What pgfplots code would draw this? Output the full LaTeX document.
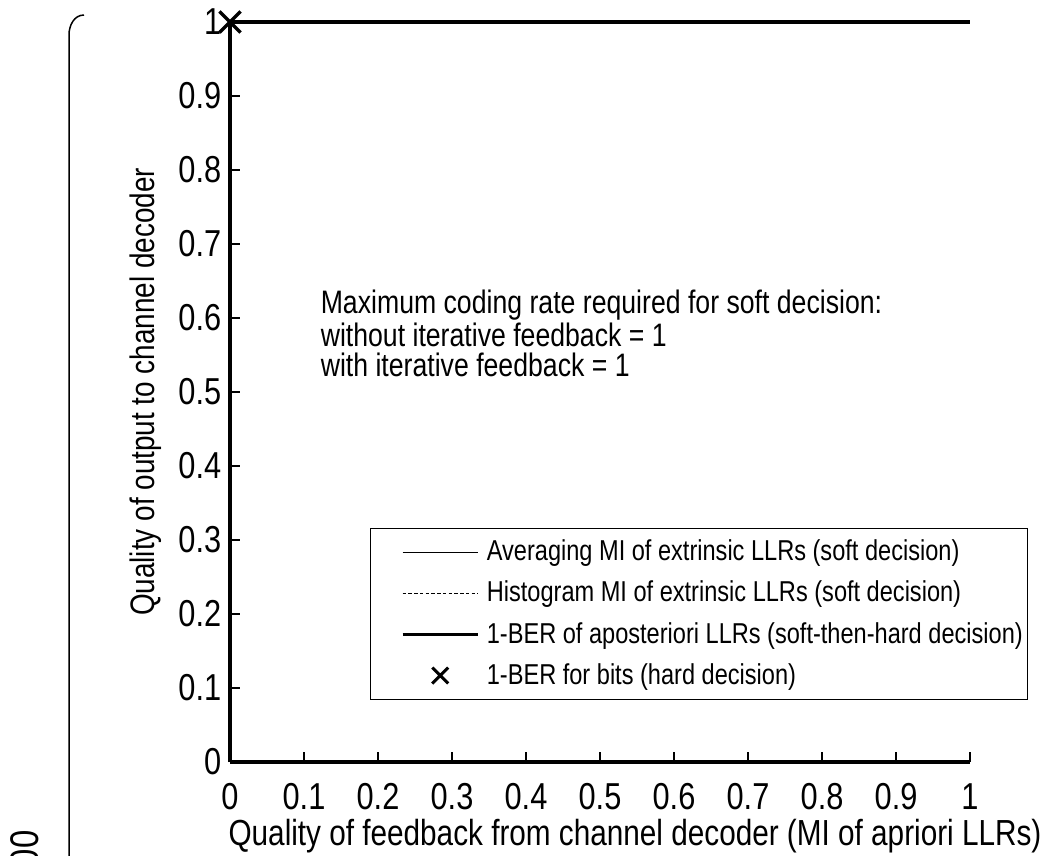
\documentclass[border=0pt]{standalone}
\usepackage{fontspec}
\setmainfont{Liberation Sans}[FakeStretch=0.82]
\usepackage{pgfplots}
\pgfplotsset{compat=1.18}

\newcommand{\ticksize}{\fontsize{15}{16}\selectfont}
\newcommand{\legsize}{\fontsize{11.5}{12}\selectfont}
\newcommand{\notesize}{\fontsize{13}{12}\selectfont}

\pgfplotsset{
  linelegend/.style={legend image code/.code={\path (0pt,0pt); \draw[##1] (10pt,0pt) -- (40pt,0pt);}},
  thicklegend/.style={legend image code/.code={\path (0pt,0pt); \draw[##1, line width=1.3pt] (10pt,0pt) -- (40pt,0pt);}},
  marklegend/.style={legend image code/.code={\path (0pt,0pt) (40pt,0pt); \draw[##1] plot coordinates {(25pt,0pt)};}},
  every non boxed x axis/.append style={xtick align=inside},
  every non boxed y axis/.append style={ytick align=inside},
}

\begin{document}
\begin{tikzpicture}[x=0.4pt,y=0.4pt]
\useasboundingbox (0,0) rectangle (1057,855);

% figure bracket on the left margin
\draw[line width=0.6pt] (84,840) to[out=180,in=90] (69,820) -- (69,-5);
\node[rotate=90,anchor=east,inner sep=0pt,font=\fontsize{16}{16}\selectfont] at (25,25) {00};

\begin{axis}[
  at={(92pt,37.2pt)}, anchor=south west,
  scale only axis, width=296pt, height=296pt,
  xmin=0, xmax=1, ymin=0, ymax=1,
  axis x line*=bottom, axis y line*=left,
  axis line style={-, line width=1.8pt},
  xtick={0,0.1,...,1.01}, ytick={0,0.1,...,1.01},
  tick align=inside, major tick length=4pt,
  tick style={line width=0.6pt, black},
  xtick pos=bottom, ytick pos=left,
  /pgf/number format/assume math mode=true,
  ticklabel style={font=\ticksize},
  xticklabel style={yshift=-5pt},
  xticklabels={0,0.1,0.2,0.3,0.4,0.5,0.6,0.7,0.8,0.9,1},
  yticklabels={0,0.1,0.2,0.3,0.4,0.5,0.6,0.7,0.8,0.9,1},
  xlabel={Quality of feedback from channel decoder (MI of apriori LLRs)},
  ylabel={Quality of output to channel decoder},
  xlabel style={font=\fontsize{14.5}{16}\selectfont, yshift=3pt, xshift=14pt},
  ylabel style={font=\fontsize{13.6}{16}\selectfont, yshift=0pt},
  clip=false,
  legend cell align=left,
  legend style={
    at={(0.189,0.316)}, anchor=north west,
    draw=black, line width=0.5pt, fill=white,
    font=\legsize, row sep=2.6pt, column sep=3pt,
    inner xsep=2pt, inner ysep=2.5pt,
    nodes={inner xsep=0pt},
  },
]
\addplot[black, line width=0.5pt, linelegend] coordinates {(0,1) (1,1)};
\addlegendentry{Averaging MI of extrinsic LLRs (soft decision)}
\addplot[black, line width=0.5pt, dash pattern=on 1.4pt off 0.9pt, linelegend] coordinates {(0,1) (1,1)};
\addlegendentry{Histogram MI of extrinsic LLRs (soft decision)}
\addplot[black, line width=1.8pt, thicklegend] coordinates {(0,1) (1,1)};
\addlegendentry{1-BER of aposteriori LLRs (soft-then-hard decision)}
\addplot[black, only marks, mark=x, mark size=6pt, line width=1.3pt, forget plot] coordinates {(0,1)};
\addlegendimage{black, only marks, mark=x, mark size=4.5pt, line width=1.2pt, marklegend}
\addlegendentry{1-BER for bits (hard decision)}

\node[anchor=north west, inner sep=0pt, align=left, font=\notesize]
  at (axis cs:0.122,0.638)
  {Maximum coding rate required for soft decision:\\
   without iterative feedback = 1\\
   with iterative feedback = 1};
\end{axis}
\end{tikzpicture}
\end{document}
